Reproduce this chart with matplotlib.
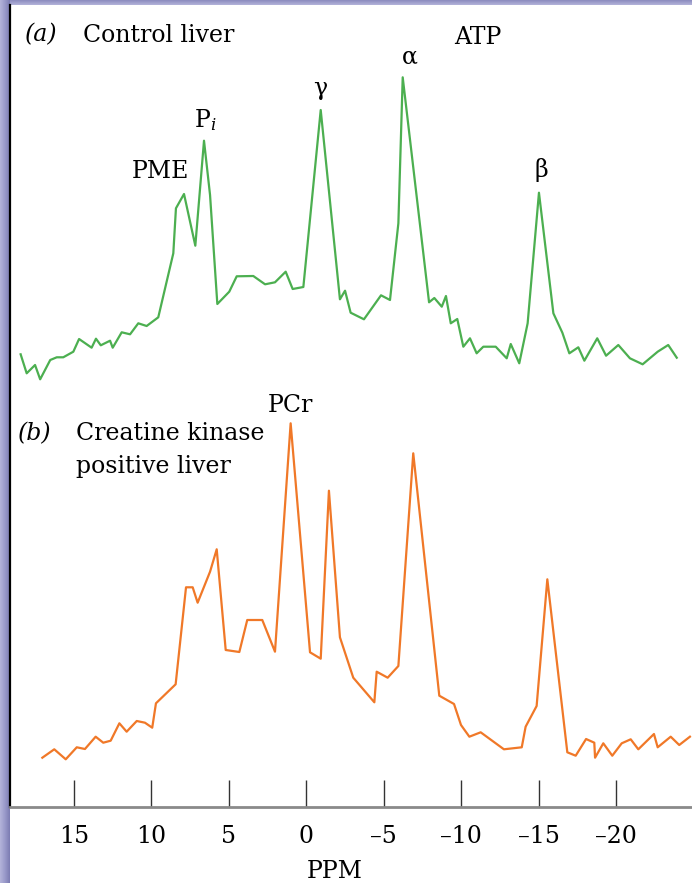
import numpy as np
import matplotlib
matplotlib.use("Agg")
import matplotlib.pyplot as plt

plt.rcParams['font.family'] = 'DejaVu Serif'
plt.rcParams['mathtext.fontset'] = 'dejavuserif'

# (a) control liver, chemical shift (ppm) and intensity (a.u.)
ppm_a = [18.43, 18.04, 17.50, 17.17, 16.52, 16.10, 15.68, 15.03, 14.66, 13.85,
         13.57, 13.26, 12.66, 12.49, 11.91, 11.37, 10.84, 10.30, 9.55, 8.58,
         8.41, 7.89, 7.16, 6.60, 6.21, 5.74, 4.97, 4.49, 3.42, 2.66,
         2.02, 1.33, 0.88, 0.19, -0.93, -2.17, -2.50, -2.86, -3.72, -4.82,
         -5.40, -5.94, -6.22, -7.92, -8.26, -8.74, -9.01, -9.32, -9.74, -10.13,
         -10.56, -10.99, -11.42, -12.22, -12.93, -13.19, -13.74, -14.28, -15.01, -15.94,
         -16.52, -16.97, -17.55, -17.94, -18.77, -19.34, -20.13, -20.88, -21.70, -22.67,
         -23.35, -23.90]
int_a = [3.57, 1.67, 2.50, 1.07, 3.00, 3.27, 3.27, 3.83, 5.10, 4.23,
         5.13, 4.47, 4.93, 4.23, 5.77, 5.57, 6.67, 6.40, 7.27, 13.67,
         18.17, 19.60, 14.43, 24.93, 19.50, 8.60, 9.83, 11.37, 11.40, 10.57,
         10.77, 11.83, 10.10, 10.30, 28.00, 9.07, 9.93, 7.73, 7.07, 9.47,
         9.00, 16.67, 31.27, 8.77, 9.20, 8.33, 9.40, 6.67, 7.10, 4.33,
         5.17, 3.67, 4.33, 4.33, 3.17, 4.60, 2.67, 6.67, 19.73, 7.67,
         5.73, 3.67, 4.27, 2.93, 5.17, 3.43, 4.50, 3.17, 2.57, 3.83,
         4.50, 3.23]

# (b) creatine kinase positive liver
ppm_b = [17.03, 16.26, 15.52, 14.81, 14.28, 13.59, 13.10, 12.62, 12.06, 11.59,
         10.94, 10.41, 9.94, 9.70, 8.43, 7.76, 7.33, 7.01, 6.21, 5.78,
         5.20, 4.32, 3.81, 2.84, 2.02, 1.01, -0.24, -0.93, -1.46, -2.17,
         -3.03, -4.39, -4.54, -5.25, -5.94, -6.90, -8.58, -9.53, -9.98, -10.52,
         -11.25, -12.75, -13.90, -14.15, -14.86, -15.55, -16.84, -17.38, -18.05, -18.58,
         -18.63, -19.16, -19.74, -20.35, -20.93, -21.42, -22.43, -22.67, -23.51, -24.06,
         -24.75]
int_b = [2.23, 3.07, 2.07, 3.27, 3.10, 4.33, 3.73, 3.93, 5.67, 4.83,
         5.90, 5.73, 5.23, 7.67, 9.57, 19.27, 19.27, 17.73, 20.83, 23.07,
         13.00, 12.80, 16.00, 16.00, 12.83, 35.67, 12.77, 12.13, 28.93, 14.27,
         10.23, 7.77, 10.83, 10.23, 11.40, 32.67, 8.43, 7.60, 5.50, 4.33,
         4.77, 3.07, 3.27, 5.33, 7.40, 20.07, 2.77, 2.43, 4.10, 3.73,
         2.23, 3.67, 2.43, 3.67, 4.07, 3.07, 4.60, 3.27, 4.33, 3.50,
         4.33]

offset_a = 41.65
offset_b = 2.65

xticks = [15, 10, 5, 0, -5, -10, -15, -20]
xticklabels = ['15', '10', '5', '0', '\u20135', '\u201310', '\u201315', '\u201320']

W, H = 692, 883
fig = plt.figure(figsize=(W / 100, H / 100), dpi=100)
fig.patch.set_facecolor('white')

# purple slide border (left and top)
grad = np.linspace(0, 1, 64).reshape(1, -1)
bl = fig.add_axes([0, 0, 10 / W, 1])
bl.imshow(grad, aspect='auto', cmap=matplotlib.colors.LinearSegmentedColormap.from_list(
    'p', ['#b4b4da', '#9a9aca', '#7c7cb2']), extent=[0, 1, 0, 1])
bl.axis('off')
bt = fig.add_axes([10 / W, 1 - 5 / H, 1 - 10 / W, 5 / H])
bt.imshow(grad.T[::-1], aspect='auto', cmap=matplotlib.colors.LinearSegmentedColormap.from_list(
    'p2', ['#b4b4da', '#8a8abe']), extent=[0, 1, 0, 1])
bt.axis('off')

ax = fig.add_axes([10 / W, (H - 806.5) / H, 1 - 10 / W, (806.5 - 5) / H])
ax.plot(ppm_a, np.array(int_a) + offset_a, color='#4caf50', lw=1.6)
ax.plot(ppm_b, np.array(int_b) + offset_b, color='#f07828', lw=1.6)

ax.set_xlim((306.3 - 10) / 15.5, (306.3 - 692) / 15.5)
ax.set_ylim(0, 80.15)
ax.set_yticks([])
ax.set_xticks(xticks)
ax.set_xticklabels(xticklabels, fontsize=17)
ax.tick_params(axis='x', direction='in', length=19.5, width=1, color='#333333', pad=13)
ax.spines['top'].set_visible(False)
ax.spines['right'].set_visible(False)
ax.spines['left'].set_color('black')
ax.spines['left'].set_linewidth(1.6)
ax.spines['bottom'].set_color('#8a8a8a')
ax.spines['bottom'].set_linewidth(2)
ax.set_xlabel('PPM', fontsize=17, va='center')
ax.xaxis.set_label_coords(0.4765, -0.0805)

fs = 17
ax.text(18.15, 77.15, '(a)', style='italic', fontsize=fs, ha='left', va='center')
ax.text(14.41, 77.15, 'Control liver', fontsize=fs, ha='left', va='center')
ax.text(-11.08, 76.85, 'ATP', fontsize=fs, ha='center', va='center')
ax.text(-6.69, 74.95, '\u03b1', fontsize=fs, ha='center', va='center')
ax.text(-0.88, 71.85, '\u03b3', fontsize=fs, ha='center', va='center')
ax.text(6.54, 68.65, 'P$_i$', fontsize=fs, ha='center', va='center')
ax.text(9.44, 63.45, 'PME', fontsize=fs, ha='center', va='center')
ax.text(-15.14, 63.65, '\u03b2', fontsize=fs, ha='center', va='center')
ax.text(1.05, 40.15, 'PCr', fontsize=fs, ha='center', va='center')
ax.text(18.6, 37.25, '(b)', style='italic', fontsize=fs, ha='left', va='center')
ax.text(14.85, 37.25, 'Creatine kinase', fontsize=fs, ha='left', va='center')
ax.text(14.85, 34.05, 'positive liver', fontsize=fs, ha='left', va='center')

fig.savefig('out.png', dpi=100)
